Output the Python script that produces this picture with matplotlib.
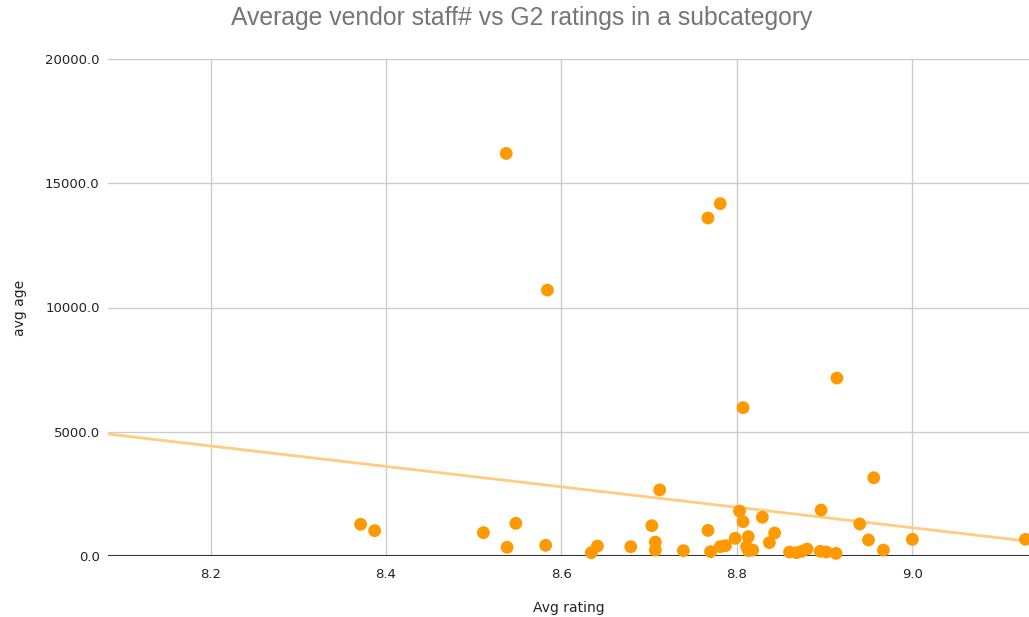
import numpy as np
import matplotlib.pyplot as plt

plt.rcParams['font.family'] = ['DejaVu Sans']

# Avg rating vs avg age
avg_rating = [8.537, 8.584, 8.767, 8.781, 8.914, 8.807, 8.712, 8.956, 8.803, 8.807,
              8.829, 8.896, 8.703, 8.767, 8.940, 8.843, 8.798, 8.813, 8.837, 8.707,
              8.707, 8.641, 8.634, 8.679, 8.739, 8.770, 8.781, 8.787, 8.811, 8.813,
              8.818, 8.860, 8.868, 8.874, 8.880, 8.895, 8.902, 8.913, 8.950, 8.967,
              9.000, 9.129, 8.371, 8.387, 8.511, 8.538, 8.548, 8.582]
avg_age = [16200, 10700, 13600, 14180, 7160, 5970, 2660, 3150, 1810, 1380,
           1560, 1850, 1220, 1030, 1290, 925, 710, 780, 540, 560,
           240, 400, 135, 375, 215, 175, 375, 415, 375, 215,
           240, 160, 135, 190, 280, 190, 160, 105, 645, 240,
           670, 670, 1275, 1020, 940, 350, 1315, 430]

x_ticks = [8.2, 8.4, 8.6, 8.8, 9.0]
y_ticks = [0, 5000, 10000, 15000, 20000]

fig = plt.figure(figsize=(10.29, 6.17), dpi=100)
ax = fig.add_axes([108 / 1029, 1 - 556 / 617, 1 - 108 / 1029, (556 - 59) / 617])

x = np.array(avg_rating)
y = np.array(avg_age)

# linear trendline
k, b = np.polyfit(x, y, 1)
xs = np.array([8.083, 9.133])
ax.plot(xs, k * xs + b, color='#ffcc80', lw=2, zorder=2)

ax.scatter(x, y, s=85, color='#ff9900', edgecolors='none', zorder=3, clip_on=False)

ax.set_xlim(8.083, 9.133)
ax.set_ylim(0, 20000)
ax.set_xticks(x_ticks)
ax.set_xticklabels([f'{v:.1f}' for v in x_ticks])
ax.set_yticks(y_ticks)
ax.set_yticklabels([f'{v:.1f}' for v in y_ticks])
ax.grid(True, color='#cccccc', lw=1)
ax.set_axisbelow(True)
ax.axhline(0, color='#333333', lw=1.5, zorder=2)
for s in ax.spines.values():
    s.set_visible(False)
ax.tick_params(length=0, labelsize=9.5, colors='#222222')
ax.tick_params(axis='x', pad=9)
ax.tick_params(axis='y', pad=6)

ax.set_xlabel('Avg rating', fontsize=10, color='#222222', labelpad=14)
ax.set_ylabel('avg age', fontsize=10, color='#222222', labelpad=13)
fig.suptitle('Average vendor staff# vs G2 ratings in a subcategory', x=522 / 1029, y=0.99,
             fontsize=17.8, color='#757575', family='Liberation Sans')

fig.savefig('out.png', dpi=100)
